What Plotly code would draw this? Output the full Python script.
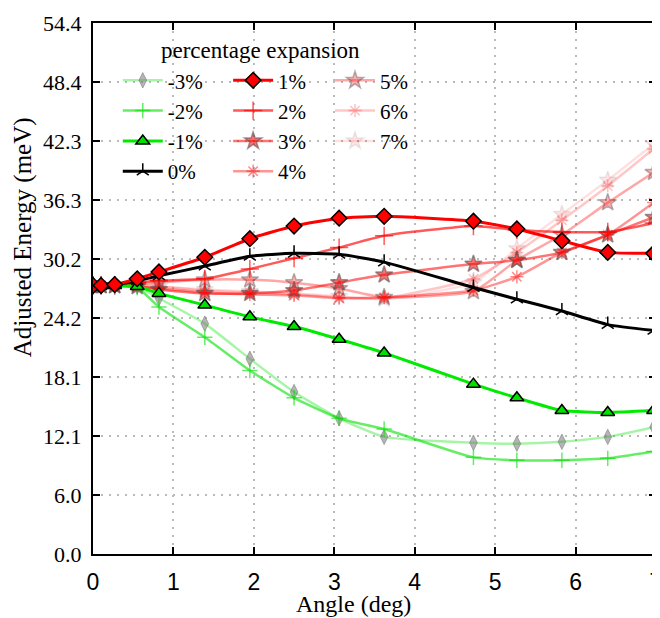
import plotly.graph_objects as go

angles = [0, 0.1, 0.27, 0.55, 0.82, 1.39, 1.95, 2.5, 3.06, 3.62, 4.73, 5.27, 5.83, 6.4, 6.97]

e_m3 = [27.5, 27.5, 27.5, 27.4, 26.2, 23.6, 20.0, 16.6, 13.9, 12.0, 11.4, 11.3, 11.5, 12.0, 13.0]
e_m2 = [27.5, 27.5, 27.4, 27.3, 25.3, 22.2, 18.8, 16.0, 13.9, 12.8, 9.9, 9.6, 9.6, 9.8, 10.5]
e_m1 = [27.5, 27.5, 27.5, 27.4, 26.7, 25.5, 24.3, 23.3, 22.0, 20.6, 17.4, 16.0, 14.7, 14.5, 14.7]
e_0 = [27.5, 27.5, 27.6, 28.0, 28.5, 29.5, 30.5, 30.8, 30.7, 29.9, 27.3, 26.1, 24.9, 23.5, 22.9]
e_p1 = [27.5, 27.5, 27.6, 28.2, 28.9, 30.4, 32.3, 33.6, 34.4, 34.6, 34.1, 33.3, 32.1, 30.9, 30.8]
e_p2 = [27.5, 27.5, 27.5, 27.8, 28.0, 28.2, 29.2, 30.3, 31.4, 32.6, 33.6, 33.2, 33.0, 33.0, 33.9]
e_p3 = [27.5, 27.5, 27.5, 27.4, 27.1, 26.7, 26.7, 27.0, 27.8, 28.6, 29.7, 30.1, 30.9, 32.7, 34.5]
e_p4 = [27.5, 27.5, 27.5, 27.4, 27.2, 26.8, 26.6, 26.5, 26.2, 26.3, 27.0, 28.4, 30.9, 32.7, 36.0]
e_p5 = [27.5, 27.5, 27.5, 27.6, 27.8, 28.1, 28.1, 27.8, 27.2, 26.3, 26.9, 30.1, 32.7, 36.0, 39.1]
e_p6 = [27.5, 27.5, 27.5, 27.5, 27.4, 27.0, 26.8, 26.6, 26.3, 26.2, 28.2, 30.9, 34.2, 37.7, 41.5]
e_p7 = [27.5, 27.5, 27.5, 27.5, 27.4, 27.1, 26.9, 26.7, 26.4, 26.1, 27.8, 31.3, 34.8, 38.3, 42.0]

labels = ["-3%", "-2%", "-1%", "0%", "1%", "2%", "3%", "4%", "5%", "6%", "7%"]

y_tickvals = [0, 6.044, 12.089, 18.133, 24.178, 30.222, 36.267, 42.311, 48.356, 54.4]
y_ticktext = ["0.0", "6.0", "12.1", "18.1", "24.2", "30.2", "36.3", "42.3", "48.4", "54.4"]
x_tickvals = [0, 1, 2, 3, 4, 5, 6, 7]

# style: (line color, width, marker symbol, marker fill, marker line color, marker line width, size, legend)
styles = {
    "-3%": ("rgba(0,225,0,0.35)", 2.5, "diamond-tall", "rgba(120,120,120,0.55)", "rgba(120,120,120,0.55)", 1, 11, "legend"),
    "-2%": ("rgba(0,225,0,0.6)", 2.5, "cross-thin", "rgba(0,225,0,0.6)", "rgba(0,225,0,0.6)", 1.5, 11, "legend"),
    "-1%": ("rgb(0,235,0)", 3, "triangle-up", "rgb(0,225,0)", "black", 1.5, 12, "legend"),
    "0%": ("black", 3, "y-up", "black", "black", 1.5, 10, "legend"),
    "1%": ("rgb(255,0,0)", 3, "diamond", "rgb(255,0,0)", "black", 1.5, 12, "legend2"),
    "2%": ("rgba(255,0,0,0.65)", 2.5, "cross-thin", "rgba(255,0,0,0.65)", "rgba(255,0,0,0.65)", 1.5, 13, "legend2"),
    "3%": ("rgba(255,0,0,0.55)", 2.5, "star", "rgba(255,0,0,0.55)", "rgba(90,90,90,0.6)", 1.5, 13, "legend2"),
    "4%": ("rgba(255,0,0,0.42)", 2.5, "asterisk-open", "rgba(255,0,0,0.45)", "rgba(255,0,0,0.45)", 1.5, 11, "legend2"),
    "5%": ("rgba(255,0,0,0.35)", 2.5, "star", "rgba(255,0,0,0.3)", "rgba(90,90,90,0.45)", 1.5, 13, "legend3"),
    "6%": ("rgba(255,0,0,0.22)", 2.5, "asterisk-open", "rgba(255,0,0,0.25)", "rgba(255,0,0,0.25)", 1.5, 11, "legend3"),
    "7%": ("rgba(255,0,0,0.12)", 2.5, "star", "rgba(255,0,0,0.1)", "rgba(90,90,90,0.12)", 1.5, 13, "legend3"),
}
series = {"-3%": e_m3, "-2%": e_m2, "-1%": e_m1, "0%": e_0, "1%": e_p1, "2%": e_p2,
          "3%": e_p3, "4%": e_p4, "5%": e_p5, "6%": e_p6, "7%": e_p7}

draw_order = ["7%", "6%", "5%", "4%", "3%", "2%", "-3%", "-2%", "-1%", "0%", "1%"]

fig = go.Figure()
for name in draw_order:
    lc, lw, sym, mf, ml, mlw, ms, leg = styles[name]
    fig.add_trace(go.Scatter(
        x=angles, y=series[name], name=name, mode="lines+markers",
        line=dict(color=lc, width=lw, shape="spline", smoothing=0.5),
        marker=dict(symbol=sym, color=mf, size=ms, line=dict(color=ml, width=mlw)),
        legend=leg, legendrank=labels.index(name) + 1,
    ))

serif = "Liberation Serif, Times New Roman, serif"
leg_common = dict(font=dict(family=serif, size=21, color="black"), bgcolor="rgba(0,0,0,0)",
                  orientation="v", yanchor="top", xanchor="left", tracegroupgap=0,
                  itemwidth=40, traceorder="normal")

ly = 0.93
grid_dash = "2px,6px"
fig.update_layout(
    width=652, height=610,
    margin=dict(l=85, r=4, t=15, b=64),
    paper_bgcolor="white", plot_bgcolor="white",
    showlegend=True,
    legend=dict(x=0.044, y=ly, **leg_common),
    legend2=dict(x=0.240, y=ly, **leg_common),
    legend3=dict(x=0.421, y=ly, **leg_common),
    xaxis=dict(range=[0, 7], tickvals=x_tickvals, ticks="inside", ticklen=7, tickwidth=1.5,
               tickcolor="black", showline=True, linecolor="black", linewidth=2, mirror="ticks",
               showgrid=True, gridcolor="#bbbbbb", griddash=grid_dash, gridwidth=1.5, zeroline=False,
               tickfont=dict(family="Liberation Sans Narrow, Liberation Sans, Arial, sans-serif", size=23, color="black"),
               ticklabelstandoff=6, automargin=False, ticklabeloverflow="allow"),
    yaxis=dict(range=[0, 54.4], tickvals=y_tickvals, ticktext=y_ticktext, ticks="inside", ticklen=7,
               tickwidth=1.5, tickcolor="black", showline=True, linecolor="black", linewidth=2,
               mirror="ticks", showgrid=True, gridcolor="#bbbbbb", griddash=grid_dash, gridwidth=1.5,
               zeroline=False, tickfont=dict(family=serif, size=22, color="black"),
               ticklabelstandoff=5, automargin=False, ticklabeloverflow="allow"),
    annotations=[
        dict(text="Angle (deg)", xref="paper", yref="paper", x=0.462, y=-0.094, showarrow=False,
             xanchor="center", yanchor="middle", font=dict(family=serif, size=24, color="black")),
        dict(text="Adjusted Energy (meV)", xref="paper", yref="paper", x=-0.124, y=0.597,
             showarrow=False, textangle=-90, xanchor="center", yanchor="middle",
             font=dict(family=serif, size=25, color="black")),
        dict(text="percentage expansion", xref="paper", yref="paper", x=0.298, y=0.949,
             showarrow=False, xanchor="center", yanchor="middle",
             font=dict(family=serif, size=23, color="black")),
    ],
)

fig.write_html("out.html")
